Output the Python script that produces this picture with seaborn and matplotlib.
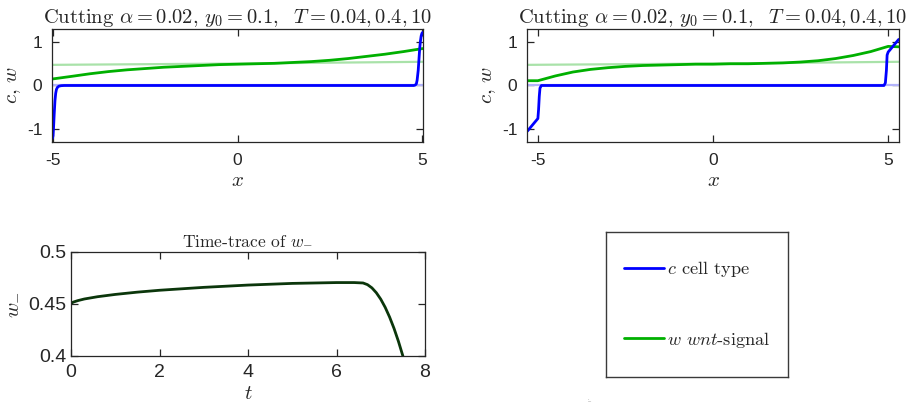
import numpy as np
import pandas as pd
import matplotlib
matplotlib.use("Agg")
import matplotlib.pyplot as plt
import seaborn as sns

# ---------------- data ----------------
# top-left panel (domain -5..5)
tl_c_x = [-5.02, -5.0, -4.99, -4.97, -4.95, -4.93, -4.91, -4.88, -4.84, -4.78, -4.7,
          4.78, 4.82, 4.85, 4.87, 4.9, 4.92, 4.94, 4.96, 4.98, 5.0, 5.02]
tl_c_y = [-1.22, -1.15, -1.0, -0.65, -0.35, -0.18, -0.09, -0.04, -0.015, -0.004, 0.0,
          0.0, 0.01, 0.04, 0.12, 0.35, 0.6, 0.85, 1.02, 1.14, 1.2, 1.22]
tl_w_x = [-5.02, -4.5, -4.0, -3.5, -3.0, -2.5, -2.0, -1.5, -1.0, -0.5, 0.0, 0.5, 1.0,
          1.5, 2.0, 2.5, 3.0, 3.5, 4.0, 4.5, 5.02]
tl_w_y = [0.15, 0.21, 0.27, 0.32, 0.36, 0.39, 0.42, 0.44, 0.46, 0.48, 0.49, 0.50, 0.51,
          0.53, 0.55, 0.58, 0.62, 0.67, 0.72, 0.78, 0.85]
tl_c0_x = [-5.02, 5.02]
tl_c0_y = [0.0, 0.0]
tl_w0_x = [-5.02, 0.0, 5.02]
tl_w0_y = [0.475, 0.505, 0.545]

# top-right panel (domain -5.3..5.3)
tr_c_x = [-5.3, -5.0, -4.98, -4.96, -4.94, -4.9, 4.88, 4.92, 4.95, 4.97, 5.0, 5.3]
tr_c_y = [-1.05, -0.76, -0.55, -0.25, -0.06, 0.0, 0.0, 0.06, 0.35, 0.7, 0.77, 1.06]
tr_w_x = [-5.3, -5.0, -4.5, -4.0, -3.5, -3.0, -2.5, -2.0, -1.5, -1.0, -0.5, 0.0, 0.5,
          1.0, 1.5, 2.0, 2.5, 3.0, 3.5, 4.0, 4.5, 5.0, 5.3]
tr_w_y = [0.11, 0.11, 0.22, 0.31, 0.37, 0.41, 0.44, 0.46, 0.47, 0.48, 0.49, 0.49, 0.50,
          0.50, 0.51, 0.52, 0.54, 0.57, 0.62, 0.69, 0.78, 0.90, 0.89]
tr_c0_x = [-5.3, 5.3]
tr_c0_y = [0.0, 0.0]
tr_w0_x = [-5.3, 0.0, 5.3]
tr_w0_y = [0.475, 0.505, 0.545]

# bottom-left: time trace of w_-
t_vals = [0.0, 0.05, 0.15, 0.3, 0.6, 1.0, 1.5, 2.0, 3.0, 4.0, 5.0, 6.0, 6.4, 6.6, 6.7,
          6.8, 6.9, 7.0, 7.1, 7.2, 7.3, 7.4, 7.5]
w_minus = [0.4505, 0.4518, 0.4532, 0.4548, 0.4570, 0.4592, 0.4614, 0.4632, 0.4660,
           0.4682, 0.4698, 0.4706, 0.4706, 0.4702, 0.4686, 0.4655, 0.4608, 0.4546,
           0.4468, 0.4374, 0.4265, 0.4140, 0.4000]

legend_labels = [r"$c$ cell type", r"$w$ $wnt$-signal"]
panel_title = r"Cutting $\alpha = 0.02,\, y_0 = 0.1,\ \ T = 0.04, 0.4, 10$"
trace_title = r"Time-trace of $w_{-}$"

# ---------------- style ----------------
sns.set_theme(style="ticks")
plt.rcParams["font.family"] = ["Liberation Sans", "DejaVu Sans"]
plt.rcParams["mathtext.fontset"] = "cm"
plt.rcParams["axes.unicode_minus"] = False

BLUE = "#0000ff"
GREEN = "#00b000"
LBLUE = "#b3b3fb"
LGREEN = "#a9e2a9"
DKGREEN = "#0b360b"
FRAME = "#262626"
SERIF = ["cmr10", "DejaVu Serif"]

fig = plt.figure(figsize=(9.06, 4.05), dpi=100)


def style_axes(ax, labelsize, xpad, ypad):
    for s in ax.spines.values():
        s.set_color(FRAME)
        s.set_linewidth(0.9)
        s.set_visible(True)
    ax.tick_params(which="major", direction="in", top=True, right=True,
                   bottom=True, left=True, length=5, width=0.9,
                   color=FRAME, labelsize=labelsize, labelcolor="#262626")
    ax.tick_params(axis="x", pad=xpad)
    ax.tick_params(axis="y", pad=ypad)


def top_panel(rect, c0x, c0y, w0x, w0y, cx, cy, wx, wy, xlim):
    ax = fig.add_axes(rect)
    sns.lineplot(x=c0x, y=c0y, color=LBLUE, lw=1.6, ax=ax, estimator=None)
    sns.lineplot(x=w0x, y=w0y, color=LGREEN, lw=1.6, ax=ax, estimator=None)
    sns.lineplot(x=wx, y=wy, color=GREEN, lw=2.0, ax=ax, estimator=None, label=legend_labels[1])
    sns.lineplot(x=cx, y=cy, color=BLUE, lw=2.0, ax=ax, estimator=None, label=legend_labels[0])
    ax.set_xlim(*xlim)
    ax.set_ylim(-1.3, 1.3)
    ax.set_xticks([-5, 0, 5])
    ax.set_yticks([-1, 0, 1])
    ax.set_title(panel_title, fontsize=14.8, family=SERIF, pad=4)
    ax.set_xlabel(r"$x$", fontsize=15, labelpad=2)
    ax.set_ylabel(r"$c,\, w$", fontsize=15, labelpad=3)
    style_axes(ax, 12.5, 8, 7)
    ax.get_legend().remove()
    return ax


ax1 = top_panel([0.0574, 0.6494, 0.4095, 0.279], tl_c0_x, tl_c0_y, tl_w0_x, tl_w0_y,
                tl_c_x, tl_c_y, tl_w_x, tl_w_y, (-5.03, 5.03))
ax2 = top_panel([0.5817, 0.6494, 0.4106, 0.279], tr_c0_x, tr_c0_y, tr_w0_x, tr_w0_y,
                tr_c_x, tr_c_y, tr_w_x, tr_w_y, (-5.31, 5.31))

# bottom-left
ax3 = fig.add_axes([0.0784, 0.121, 0.3907, 0.2568])
sns.lineplot(x=t_vals, y=w_minus, color=DKGREEN, lw=2.0, ax=ax3, estimator=None)
ax3.set_xlim(0, 8)
ax3.set_ylim(0.4, 0.5)
ax3.set_xticks([0, 2, 4, 6, 8])
ax3.set_yticks([0.4, 0.45, 0.5])
ax3.set_yticklabels(["0.4", "0.45", "0.5"])
ax3.set_title(trace_title, fontsize=12.5, family=SERIF, pad=5)
ax3.set_xlabel(r"$t$", fontsize=15, labelpad=2)
ax3.set_ylabel(r"$w_{-}$", fontsize=15, labelpad=6)
style_axes(ax3, 14, 6, 3)

# legend box
axl = fig.add_axes([0.6689, 0.0691, 0.2009, 0.358])
axl.set_xticks([])
axl.set_yticks([])
for s in axl.spines.values():
    s.set_color("#3a3a3a")
    s.set_linewidth(1.0)
    s.set_visible(True)
h, l = ax1.get_legend_handles_labels()
order = [l.index(legend_labels[0]), l.index(legend_labels[1])]
leg = axl.legend([h[i] for i in order], [l[i] for i in order], loc="center",
                 frameon=False, labelspacing=2.75, handlelength=2.2, handletextpad=0.15,
                 prop={"family": SERIF, "size": 13.2})

fig.text(588 / 906, 1 - 402 / 405, ":..", fontsize=4, color="#777777")

fig.savefig("out.png", dpi=100)
